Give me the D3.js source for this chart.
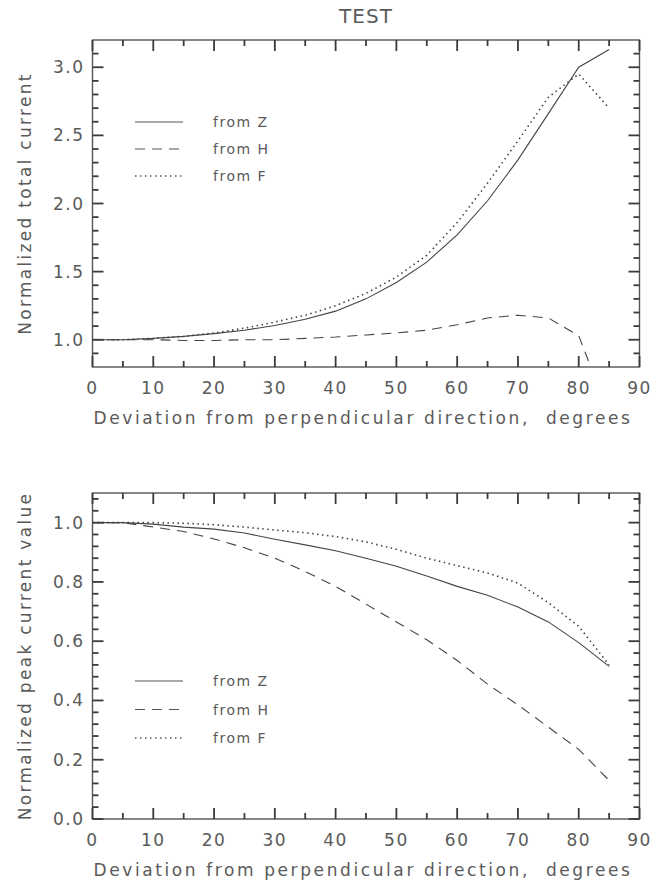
<!DOCTYPE html>
<html>
<head>
<meta charset="utf-8">
<script src="https://cdn.jsdelivr.net/npm/d3@7"></script>
<style>
  body { margin: 0; background: #fff; }
  svg { display: block; }
  text { font-family: "DejaVu Sans", sans-serif; fill: #5a5a5a; }
</style>
</head>
<body>
<svg id="chart" width="667" height="884"></svg>
<script>
// deviation angle, degrees
const degrees = [0, 5, 10, 15, 20, 25, 30, 35, 40, 45, 50, 55, 60, 65, 70, 75, 80, 85];

// normalized total current
const totalFromZ = [1.0, 1.0, 1.01, 1.025, 1.045, 1.07, 1.105, 1.15, 1.21, 1.3, 1.42, 1.57, 1.77, 2.02, 2.32, 2.66, 3.0, 3.13];
const totalFromH = [1.0, 1.0, 1.0, 0.995, 0.995, 1.0, 1.0, 1.01, 1.02, 1.035, 1.05, 1.07, 1.11, 1.16, 1.18, 1.16, 1.03, 0.45];
const totalFromF = [1.0, 1.0, 1.01, 1.025, 1.05, 1.085, 1.13, 1.18, 1.25, 1.34, 1.46, 1.62, 1.86, 2.15, 2.46, 2.78, 2.95, 2.7];

// normalized peak current value
const peakFromZ = [1.0, 1.0, 0.995, 0.985, 0.978, 0.965, 0.944, 0.925, 0.905, 0.88, 0.853, 0.82, 0.785, 0.755, 0.715, 0.665, 0.595, 0.515];
const peakFromH = [1.0, 1.0, 0.985, 0.97, 0.945, 0.915, 0.88, 0.835, 0.785, 0.725, 0.665, 0.605, 0.535, 0.455, 0.385, 0.31, 0.235, 0.13];
const peakFromF = [1.0, 1.0, 1.0, 0.998, 0.993, 0.985, 0.975, 0.966, 0.953, 0.935, 0.91, 0.88, 0.855, 0.83, 0.796, 0.73, 0.65, 0.52];

const seriesNames = ["from Z", "from H", "from F"];
const xTicks = [0, 10, 20, 30, 40, 50, 60, 70, 80, 90];
const xMinor = [5, 15, 25, 35, 45, 55, 65, 75, 85];
const topYTicks = [1.0, 1.5, 2.0, 2.5, 3.0];
const topYMinor = [0.9, 1.1, 1.2, 1.3, 1.4, 1.6, 1.7, 1.8, 1.9, 2.1, 2.2, 2.3, 2.4, 2.6, 2.7, 2.8, 2.9, 3.1];
const botYTicks = [0.0, 0.2, 0.4, 0.6, 0.8, 1.0];
const botYMinor = [0.04, 0.08, 0.12, 0.16, 0.24, 0.28, 0.32, 0.36, 0.44, 0.48, 0.52, 0.56,
                   0.64, 0.68, 0.72, 0.76, 0.84, 0.88, 0.92, 0.96, 1.04, 1.08];

const styles = [
  {dash: null, width: 1.1},
  {dash: "10,7", width: 1.1},
  {dash: "1.5,3.5", width: 1.6}
];

const svg = d3.select("#chart");
const left = 92.5, right = 639.5;
const majorLen = 11, minorLen = 6;

svg.append("text")
  .attr("x", (left + right) / 2).attr("y", 23)
  .attr("text-anchor", "middle")
  .style("font-size", "20px").style("letter-spacing", "1px")
  .text("TEST");

function panel(opts, idx) {
  const x = d3.scaleLinear().domain([0, 90]).range([left, right]);
  const y = d3.scaleLinear().domain(opts.yDomain).range([opts.bottom, opts.top]);
  const g = svg.append("g");

  const clipId = "clip" + idx;
  g.append("clipPath").attr("id", clipId)
    .append("rect")
    .attr("x", left).attr("y", opts.top)
    .attr("width", right - left).attr("height", opts.bottom - opts.top);

  g.append("rect")
    .attr("x", left).attr("y", opts.top)
    .attr("width", right - left).attr("height", opts.bottom - opts.top)
    .attr("fill", "none").attr("stroke", "#555").attr("stroke-width", 1.4);

  // inward ticks on all four sides
  const xt = xTicks.map(v => ({v: v, len: majorLen})).concat(xMinor.map(v => ({v: v, len: minorLen})));
  const yt = opts.yTicks.map(v => ({v: v, len: majorLen})).concat(opts.yMinor.map(v => ({v: v, len: minorLen})));
  const ticks = [];
  xt.forEach(d => {
    ticks.push([x(d.v), opts.bottom, x(d.v), opts.bottom - d.len]);
    ticks.push([x(d.v), opts.top, x(d.v), opts.top + d.len]);
  });
  yt.forEach(d => {
    ticks.push([left, y(d.v), left + d.len, y(d.v)]);
    ticks.push([right, y(d.v), right - d.len, y(d.v)]);
  });
  g.append("g").selectAll("line").data(ticks).join("line")
    .attr("x1", d => d[0]).attr("y1", d => d[1])
    .attr("x2", d => d[2]).attr("y2", d => d[3])
    .style("stroke", "#3a3a3a")
    .style("stroke-width", "1.8px");

  g.selectAll(".xlab").data(xTicks).join("text")
    .attr("x", d => x(d)).attr("y", opts.bottom + 27)
    .attr("text-anchor", "middle")
    .style("font-size", "17px").style("letter-spacing", "1.5px")
    .text(d3.format("d"));
  g.selectAll(".ylab").data(opts.yTicks).join("text")
    .attr("x", left - 8).attr("y", d => y(d) + 6)
    .attr("text-anchor", "end")
    .style("font-size", "17px").style("letter-spacing", "1.5px")
    .text(d3.format(".1f"));

  const line = d3.line().x((d, i) => x(degrees[i])).y(d => y(d));
  opts.series.forEach((vals, i) => {
    g.append("path")
      .attr("clip-path", `url(#${clipId})`)
      .attr("d", line(vals))
      .attr("fill", "none")
      .attr("stroke", "#444")
      .attr("stroke-width", styles[i].width)
      .attr("stroke-dasharray", styles[i].dash);
  });

  // legend
  seriesNames.forEach((name, i) => {
    const ly = opts.legendY + i * opts.legendStep;
    g.append("line")
      .attr("x1", 135).attr("x2", 183).attr("y1", ly).attr("y2", ly)
      .attr("stroke", "#555")
      .attr("stroke-width", styles[i].width)
      .attr("stroke-dasharray", styles[i].dash);
    g.append("text")
      .attr("x", 213).attr("y", ly + 5)
      .style("font-size", "14px").style("letter-spacing", "1.5px")
      .text(name);
  });

  g.append("text")
    .attr("x", (left + right) / 2 - 3).attr("y", opts.bottom + 57)
    .attr("text-anchor", "middle")
    .style("font-size", "17px").style("letter-spacing", "2.6px")
    .attr("xml:space", "preserve")
    .text("Deviation from perpendicular direction,  degrees");

  g.append("text")
    .attr("transform", `translate(31,${(opts.top + opts.bottom) / 2}) rotate(-90)`)
    .attr("text-anchor", "middle")
    .style("font-size", "17px").style("letter-spacing", "2.3px")
    .text(opts.yTitle);
}

panel({
  top: 40, bottom: 367, yDomain: [0.8, 3.2],
  yTicks: topYTicks, yMinor: topYMinor,
  series: [totalFromZ, totalFromH, totalFromF],
  yTitle: "Normalized total current",
  legendY: 122, legendStep: 27
}, 0);

panel({
  top: 493, bottom: 819, yDomain: [0, 1.1],
  yTicks: botYTicks, yMinor: botYMinor,
  series: [peakFromZ, peakFromH, peakFromF],
  yTitle: "Normalized peak current value",
  legendY: 681, legendStep: 28.5
}, 1);
</script>
</body>
</html>
